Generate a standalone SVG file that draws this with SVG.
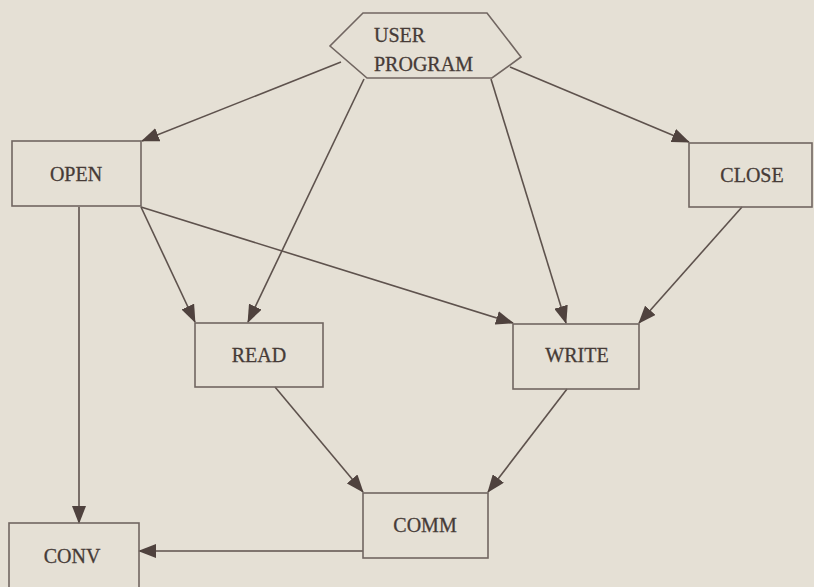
<svg xmlns="http://www.w3.org/2000/svg" width="814" height="587" viewBox="0 0 814 587">
<style>
.box{fill:none;stroke:#716661;stroke-width:1.6}
.lbl{font-family:"Liberation Serif","DejaVu Serif",serif;font-size:20px;fill:#463b37;stroke:#463b37;stroke-width:0.3}
.c{text-anchor:middle}
.edge{fill:none;stroke:#5e524d;stroke-width:1.6}
</style>
<defs>
<marker id="ah" viewBox="0 0 18 14" refX="17" refY="7" markerWidth="18" markerHeight="14" markerUnits="userSpaceOnUse" orient="auto">
<path d="M0,0 L18,7 L0,14 Z" fill="#4f423e"/>
</marker>
</defs>
<rect width="814" height="587" fill="#e5e0d5"/>
<g id="connectors">
<line class="edge" x1="341" y1="62" x2="142" y2="141" marker-end="url(#ah)"/>
<line class="edge" x1="364" y1="79" x2="248" y2="322" marker-end="url(#ah)"/>
<line class="edge" x1="491" y1="79" x2="566" y2="323" marker-end="url(#ah)"/>
<line class="edge" x1="510" y1="67" x2="689" y2="142" marker-end="url(#ah)"/>
<line class="edge" x1="141" y1="207" x2="195" y2="322" marker-end="url(#ah)"/>
<line class="edge" x1="141" y1="207" x2="513" y2="323" marker-end="url(#ah)"/>
<line class="edge" x1="742" y1="207" x2="639" y2="323" marker-end="url(#ah)"/>
<line class="edge" x1="79" y1="207" x2="79" y2="523" marker-end="url(#ah)"/>
<line class="edge" x1="275" y1="387" x2="363" y2="492" marker-end="url(#ah)"/>
<line class="edge" x1="567" y1="389" x2="488" y2="492" marker-end="url(#ah)"/>
<line class="edge" x1="363" y1="551" x2="139" y2="551" marker-end="url(#ah)"/>
</g>
<g id="user-program">
<polygon class="box" points="363,13 487,13 521,57 492,78 367,78 330,46"/>
<text class="lbl" x="374" y="42">USER</text>
<text class="lbl" x="374" y="71">PROGRAM</text>
</g>
<g id="open">
<rect class="box" x="12" y="141" width="129" height="65"/>
<text class="lbl c" x="76" y="181">OPEN</text>
</g>
<g id="close">
<rect class="box" x="689" y="143" width="123" height="64"/>
<text class="lbl c" x="752" y="182">CLOSE</text>
</g>
<g id="read">
<rect class="box" x="195" y="323" width="128" height="64"/>
<text class="lbl c" x="259" y="362">READ</text>
</g>
<g id="write">
<rect class="box" x="513" y="324" width="126" height="65"/>
<text class="lbl c" x="577" y="362">WRITE</text>
</g>
<g id="comm">
<rect class="box" x="363" y="493" width="125" height="65"/>
<text class="lbl c" x="425" y="532">COMM</text>
</g>
<g id="conv">
<rect class="box" x="9" y="523" width="130" height="70"/>
<text class="lbl c" x="72" y="563">CONV</text>
</g>
</svg>
